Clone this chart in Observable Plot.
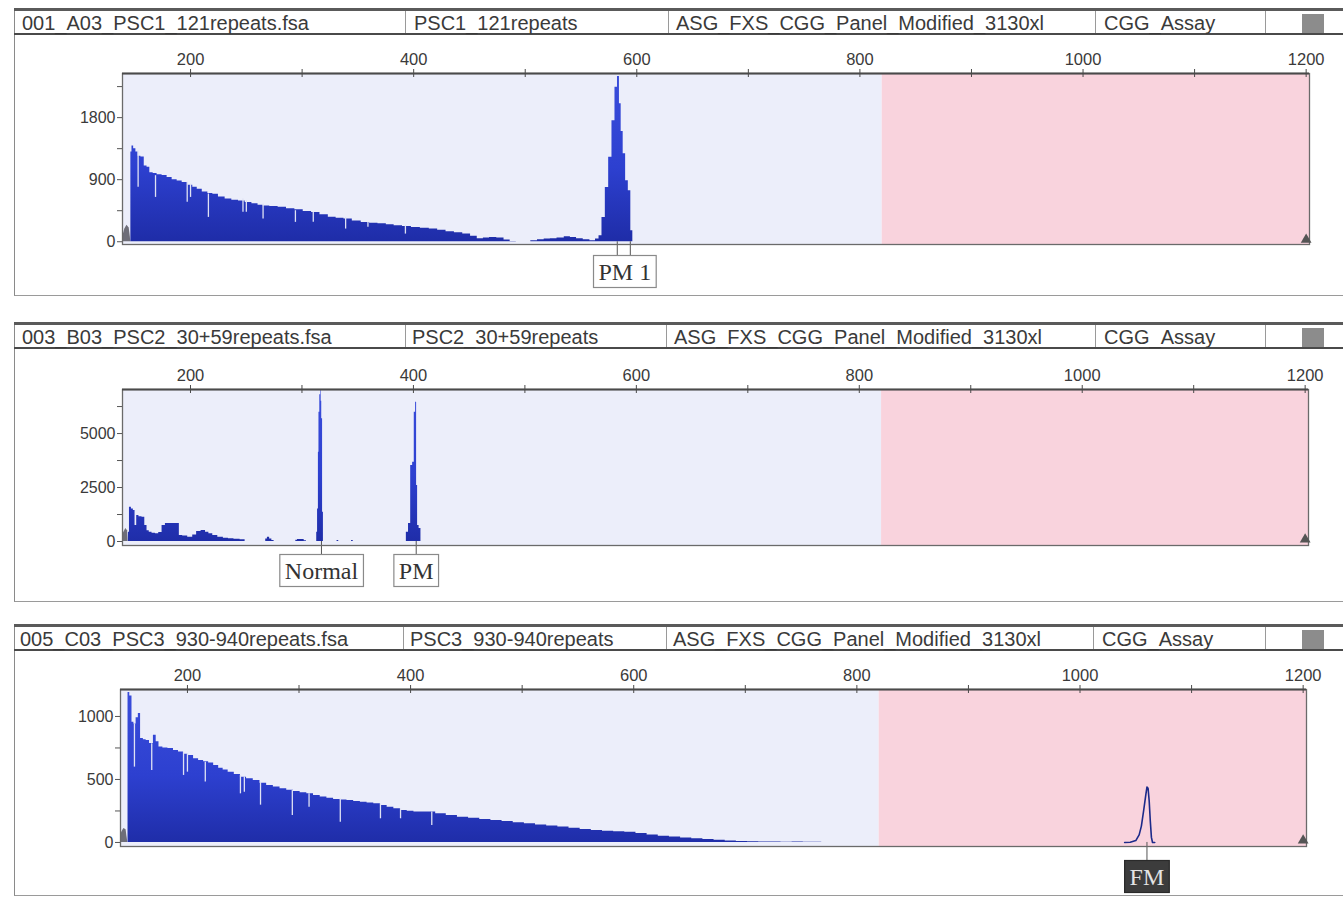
<!DOCTYPE html>
<html><head><meta charset="utf-8">
<script src="https://cdn.jsdelivr.net/npm/d3@7"></script>
<script src="https://cdn.jsdelivr.net/npm/@observablehq/plot@0.6"></script>
<style>
html,body{margin:0;padding:0;background:#fff;}
body{width:1343px;height:898px;overflow:hidden;position:relative;font-family:"Liberation Sans",Arial,sans-serif;}
.box{position:absolute;left:14px;width:1340px;border-left:1.5px solid #8a8a8a;border-bottom:1.5px solid #9a9a9a;}
.hdr{position:absolute;left:14px;width:1340px;height:22px;border-top:3px solid #5a5a5a;border-bottom:2px solid #4a4a4a;}
.cell{position:absolute;top:0;height:22px;border-left:1px solid #9a9a9a;}
.txt{position:absolute;top:0;font-size:20px;line-height:25px;color:#3a3a3a;white-space:nowrap;}
.sq{position:absolute;width:22px;background:#8c8c8c;}
.chart{position:absolute;left:0;}
</style>
</head><body>
<script>
// ---------------- data ----------------
const headerTexts = [
  ["001_A03_PSC1_121repeats.fsa", "PSC1_121repeats", "ASG_FXS_CGG_Panel_Modified_3130xl", "CGG_Assay"],
  ["003_B03_PSC2_30+59repeats.fsa", "PSC2_30+59repeats", "ASG_FXS_CGG_Panel_Modified_3130xl", "CGG_Assay"],
  ["005_C03_PSC3_930-940repeats.fsa", "PSC3_930-940repeats", "ASG_FXS_CGG_Panel_Modified_3130xl", "CGG_Assay"]
];
const xTickLabels = [200, 400, 600, 800, 1000, 1200];
const xTickMarks = [200, 300, 400, 500, 600, 700, 800, 900, 1000, 1100, 1200];
const pinkStart = 820;

const p1YTicks = [0, 450, 900, 1350, 1800, 2250];
const p1YLabels = [0, 900, 1800];
const p2YTicks = [0, 1250, 2500, 3750, 5000, 6250];
const p2YLabels = [0, 2500, 5000];
const p3YTicks = [0, 250, 500, 750, 1000];
const p3YLabels = [0, 500, 1000];

// panel 1 : PSC1 121 repeats
const p1Primer = [[139,60],[141,180],[143,240],[145,200],[146.5,0]];
const p1Trace = [[146,0],[147,1300],[148,1390],[150,1350],[152,1300],[154,1240],[157,1230],[160,1100],[162,1080],[165,1000],[168,990],[172,970],[177,960],[181,930],[186,900],[190,880],[195,860],[200,820],[204,790],[208,760],[213,720],[218,700],[222,690],[228,650],[234,620],[240,600],[246,590],[252,570],[258,550],[263,530],[267,520],[275,510],[282,500],[290,480],[297,465],[305,440],[312,425],[320,390],[327,355],[334,340],[341,330],[349,300],[357,280],[364,270],[372,260],[379,245],[386,232],[394,220],[402,208],[410,195],[418,186],[425,165],[433,145],[440,130],[448,111],[454,80],[460,43],[465,55],[471,63],[478,53],[484,25],[489,5],[495,0],[502,0],[508,15],[514,30],[520,40],[525,43],[532,55],[538,72],[543,60],[549,43],[555,30],[561,15],[565,40],[567.3,87],[570.3,353],[573.3,788],[576.3,1224],[579.2,1756],[581.7,2240],[583.7,2395],[585.2,2000],[586.8,1600],[588.8,1277],[591.2,885],[593.6,740],[595.7,160],[597.2,0],[600,0]];
const p1Gaps = [[153,790,1321],[168.6,643,958],[197,571,861],[200,643,837],[216,353,692],[247,426,620],[250,426,595],[265,329,547],[294,281,450],[310,281,426],[339,184,353],[359,209,281],[392.6,111,232]];
const p1Labels = [{x: 589.3, text: "PM 1"}];
const p1Connectors = [582.5, 594.2];

// panel 2 : PSC2 30+59 repeats
const p2Primer = [[139,0],[140,400],[142,600],[143.5,500],[144,0]];
const p2Trace = [[144,0],[144.5,430],[146,1590],[148,1500],[149.5,1440],[151,740],[152.5,1200],[155,1150],[158,1120],[160,740],[162,500],[164,430],[167,380],[170,355],[173,420],[176,740],[179,830],[184,830],[189,830],[191,280],[195,250],[200,200],[204,300],[207,460],[212,510],[215,430],[218,355],[222,280],[227,200],[232,150],[236,125],[242,100],[247,80],[251,0],[267,0],[268,120],[270,200],[272,120],[274,50],[276,0],[294,0],[295,60],[297,95],[301,95],[303,40],[305,0],[313,0],[313.5,430],[314.5,1500],[315,4130],[315.5,5990],[316.5,6800],[317,7040],[317.5,6500],[318,5680],[319,1360],[319.5,0],[331,0],[332,50],[334,0],[344,0],[345,50],[347,0],[392.6,0],[394.7,430],[396.5,830],[398.6,3520],[400,3670],[401.5,5990],[402.4,6450],[403.3,2590],[404.2,740],[406,600],[407.5,0],[410,0]];
const p2Labels = [{x: 317.5, text: "Normal"}, {x: 402.5, text: "PM"}];
const p2Connectors = [317.5, 402.5];

// panel 3 : PSC3 930-940 repeats
const p3Primer = [[140,0],[141,80],[143,110],[145,100],[146.5,0]];
const p3Trace = [[146.5,0],[147,1190],[149.6,1163],[151,955],[153,940],[155,990],[157,1024],[159,825],[162,815],[164,810],[168,785],[171,850],[173,800],[176,757],[180,750],[185,745],[190,730],[194,717],[199,700],[203,690],[208,665],[212,650],[217,640],[221,630],[226,610],[230,590],[234,575],[239,558],[245,540],[250,518],[256,505],[262,492],[268,470],[274,452],[280,440],[286,426],[292,415],[298,405],[304,395],[310,386],[316,373],[322,360],[328,350],[334,341],[340,338],[346,333],[352,326],[358,320],[364,313],[370,307],[376,293],[382,280],[388,267],[394,254],[400,248],[406,241],[412,241],[418,241],[427,228],[437,215],[447,201],[457,192],[467,183],[477,175],[487,166],[497,157],[507,148],[517,138],[527,130],[537,122],[547,112],[557,103],[567,95],[577,90],[587,86],[597,82],[607,71],[617,60],[627,50],[637,43],[647,36],[657,29],[667,23],[677,17],[687,11],[697,8],[707,5],[717,4],[727,3],[737,2],[747,3],[757,2],[767,2],[770,0]];
const p3Gaps = [[152.5,598,942],[168,571,783],[196.5,532,717],[200,558,705],[216,479,637],[247.5,386,532],[251,399,519],[265.5,296,479],[294,214,413],[309,280,386],[337,161,347],[373,188,307],[391,188,268],[419,135,241]];
const p3FmPeak = [[1040,0],[1045,2],[1050,15],[1053,60],[1055,130],[1057,250],[1059,380],[1060,440],[1061,430],[1062,330],[1063,170],[1064,40],[1065,0],[1067,0]];
const p3Labels = [{x: 1060, text: "FM"}];
const p3Connectors = [1060];

// ---------------- layout ----------------
const BLUE = "#2a3bcc";
const panels = [
  {top: 8, hdrBottom: 33, bottom: 295, xDomain: [139, 1203], ml: 122, mr: 34, mt: 40, mb: 51, yDomain: [-40, 2440],
   yTicks: p1YTicks, yLabels: p1YLabels, primer: p1Primer, trace: p1Trace, gaps: p1Gaps, labels: p1Labels, conn: p1Connectors,
   boxTop: 14, labelDy: 35, dark: false, dividers: [405, 668, 1095, 1265], textX: [22, 414, 676, 1104]},
  {top: 322, hdrBottom: 347, bottom: 601, xDomain: [139, 1203], ml: 122, mr: 35, mt: 42, mb: 56, yDomain: [-185, 7040],
   yTicks: p2YTicks, yLabels: p2YLabels, primer: p2Primer, trace: p2Trace, gaps: [], labels: p2Labels, conn: p2Connectors,
   boxTop: 10, labelDy: 33, dark: false, dividers: [405, 666, 1095, 1265], textX: [22, 412, 674, 1104]},
  {top: 624, hdrBottom: 649, bottom: 895, xDomain: [140, 1203], ml: 120, mr: 37, mt: 40, mb: 49, yDomain: [-32, 1214],
   yTicks: p3YTicks, yLabels: p3YLabels, primer: p3Primer, trace: p3Trace, gaps: p3Gaps, labels: p3Labels, conn: p3Connectors,
   fm: p3FmPeak, boxTop: 16, labelDy: 38, dark: true, dividers: [403, 666, 1093, 1265], textX: [20, 410, 673, 1102]}
];

function el(cls, style, text) {
  const d = document.createElement("div");
  d.className = cls;
  Object.assign(d.style, style);
  if (text) d.textContent = text;
  document.body.appendChild(d);
  return d;
}

panels.forEach((p, pi) => {
  // outer box + header
  el("box", {top: p.top + "px", height: (p.bottom - p.top) + "px"});
  const hdr = el("hdr", {top: p.top + "px"});
  p.dividers.forEach(x => {
    const c = document.createElement("div");
    c.className = "cell"; c.style.left = (x - 14) + "px"; hdr.appendChild(c);
  });
  headerTexts[pi].forEach((t, i) => {
    const s = document.createElement("div");
    s.className = "txt"; s.style.left = (p.textX[i] - 14) + "px"; s.textContent = t;
    hdr.appendChild(s);
  });
  el("sq", {left: "1302px", top: (p.top + 6) + "px", height: (p.hdrBottom - p.top - 6) + "px"});

  // chart
  const H = p.bottom - p.hdrBottom;
  const innerH = H - p.mt - p.mb;
  const k = innerH / (p.yDomain[1] - p.yDomain[0]);
  const yTop = p.yDomain[1], yBot = p.yDomain[0];
  const th = 4 / k;
  const boxTopVal = yBot - p.boxTop / k;
  const regions = [
    {x1: p.xDomain[0], x2: pinkStart, fill: "#eceefa"},
    {x1: pinkStart, x2: p.xDomain[1], fill: "#f9d3dd"}
  ];
  const marks = [
    Plot.rect(regions, {x1: "x1", x2: "x2", y1: yBot, y2: yTop, fill: "fill"}),
    Plot.areaY(p.primer, {x: d => d[0], y: d => d[1], fill: "#6e6e78", curve: "linear"}),
    Plot.areaY(p.trace, {x: d => d[0], y: d => d[1], fill: BLUE, curve: "step"}),
    Plot.ruleX(p.gaps, {x: d => d[0], y1: d => d[1], y2: d => d[2], stroke: "#dfe2f4", strokeWidth: 1.3}),
  ];
  if (p.fm) {
    marks.push(Plot.line(p.fm, {x: d => d[0], y: d => d[1], stroke: "#1c2a8a", strokeWidth: 1.6, curve: "linear"}));
  }
  marks.push(
    Plot.ruleX(p.conn, {x: d => d, y1: 0, y2: boxTopVal, stroke: "#555", strokeWidth: 1}),
    Plot.text(p.labels, {x: "x", text: "text", frameAnchor: "bottom", dy: p.labelDy,
      fontFamily: "Liberation Serif, serif", fontSize: 24, fill: p.dark ? "#e4e4e4" : "#333"}),
    Plot.frame({stroke: "#6a6a6a", strokeWidth: 1.3}),
    Plot.ruleY([yTop], {stroke: "#4a4a4a", strokeWidth: 2.2}),
    Plot.ruleX(xTickMarks, {x: d => d, y1: yTop - th, y2: yTop + th, stroke: "#4a4a4a", strokeWidth: 1}),
    Plot.dot([[1200, 0]], {x: d => d[0], y: d => d[1], symbol: "triangle", r: 4, fill: "#555", dy: -2}),
    Plot.axisX({anchor: "top", ticks: xTickLabels, tickFormat: d => String(d), tickSize: 0, tickPadding: 9, fontSize: 16.5, fill: "#3a3a3a"}),
    Plot.axisY({anchor: "left", ticks: p.yTicks, tickFormat: d => p.yLabels.includes(d) ? String(d) : "",
      tickSize: 5, tickPadding: 2, fontSize: 16, stroke: "#555", fill: "#3a3a3a"})
  );
  const chart = Plot.plot({
    width: 1343, height: H,
    marginLeft: p.ml, marginRight: p.mr, marginTop: p.mt, marginBottom: p.mb,
    x: {domain: p.xDomain}, y: {domain: p.yDomain},
    style: {fontFamily: "Liberation Sans, Arial, sans-serif", fontSize: "16px", color: "#3a3a3a", background: "transparent", overflow: "visible"},
    marks
  });
  const wrap = el("chart", {top: p.hdrBottom + "px"});
  wrap.appendChild(chart);

  // shaded blue: darker toward the baseline, like the overlapping peaks of the original
  const ns = "http://www.w3.org/2000/svg";
  const defs = document.createElementNS(ns, "defs");
  const grad = document.createElementNS(ns, "linearGradient");
  grad.setAttribute("id", "blueShade" + pi);
  grad.setAttribute("gradientUnits", "userSpaceOnUse");
  grad.setAttribute("x1", "0"); grad.setAttribute("x2", "0");
  grad.setAttribute("y1", String(p.mt)); grad.setAttribute("y2", String(H - p.mb));
  [["0", "#3a4ddb"], ["0.55", "#2d40d0"], ["1", "#1e2ca6"]].forEach(([o, c]) => {
    const s = document.createElementNS(ns, "stop");
    s.setAttribute("offset", o); s.setAttribute("stop-color", c); grad.appendChild(s);
  });
  defs.appendChild(grad);
  chart.insertBefore(defs, chart.firstChild);
  chart.querySelectorAll('g[aria-label="area"]').forEach(g => {
    if ((g.getAttribute("fill") || "").toLowerCase() === BLUE) g.setAttribute("fill", `url(#blueShade${pi})`);
  });

  // boxes around peak labels
  chart.querySelectorAll('g[aria-label="text"] text').forEach(t => {
    const b = t.getBBox();
    const r = document.createElementNS(ns, "rect");
    r.setAttribute("x", b.x - 5);
    r.setAttribute("y", b.y - 3);
    r.setAttribute("width", b.width + 10);
    r.setAttribute("height", b.height + 6);
    r.setAttribute("fill", p.dark ? "#3c3c3c" : "#ffffff");
    r.setAttribute("stroke", p.dark ? "#2a2a2a" : "#8a8a8a");
    r.setAttribute("stroke-width", "1.2");
    if (t.getAttribute("transform")) r.setAttribute("transform", t.getAttribute("transform"));
    t.parentNode.insertBefore(r, t);
  });
});
</script>
</body></html>
